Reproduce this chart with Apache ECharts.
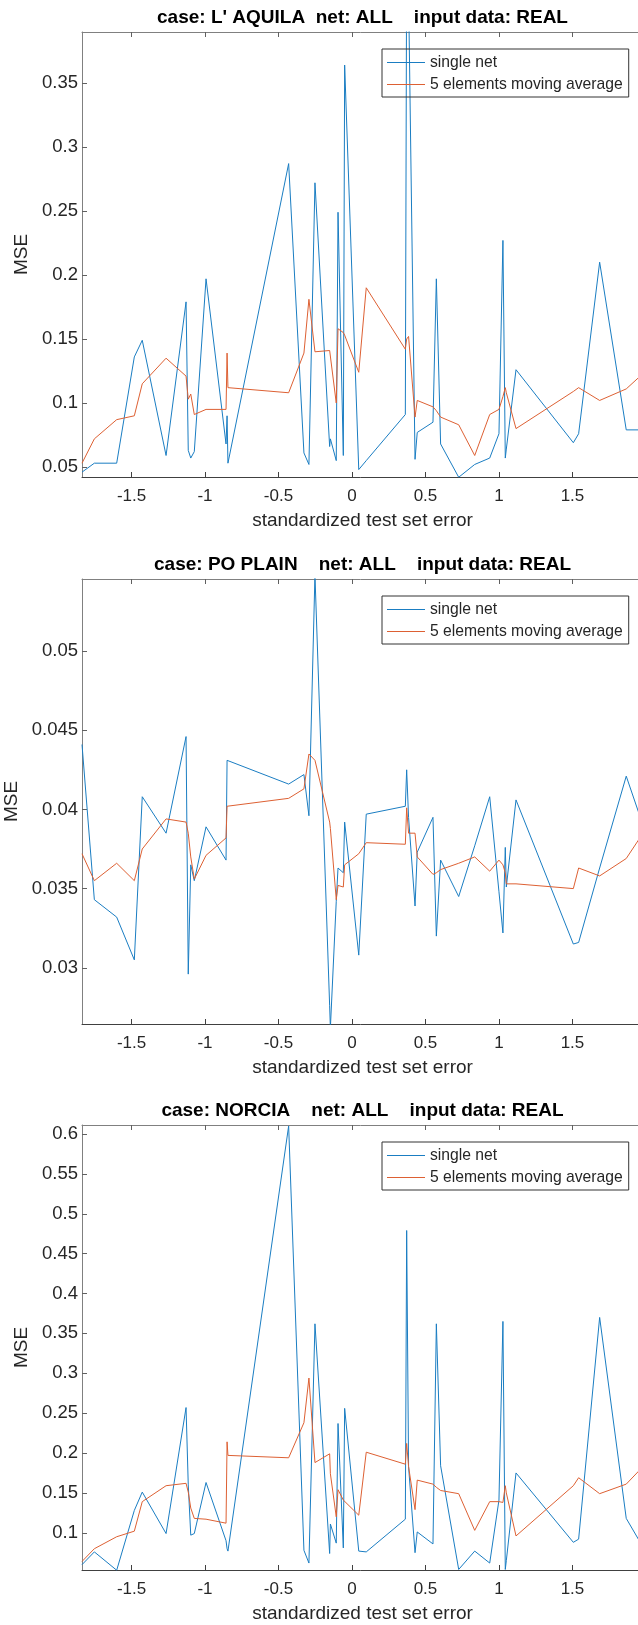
<!DOCTYPE html>
<html>
<head>
<meta charset="utf-8">
<script src="https://cdn.jsdelivr.net/npm/echarts@6/dist/echarts.min.js"></script>
<style>
  html, body { margin: 0; padding: 0; background: #fff; }
  #chart { width: 638px; height: 1625px; }
</style>
</head>
<body>
<div id="chart"></div>
<script>
// standardized test set error (shared by the three cases)
var xVals = [-1.837, -1.753, -1.601, -1.481, -1.427, -1.265, -1.129, -1.114, -1.097, -1.073,
  -0.993, -0.857, -0.850, -0.844, -0.431, -0.327, -0.293, -0.252, -0.152, -0.147,
  -0.107, -0.095, -0.059, -0.050, 0.046, 0.097, 0.363, 0.372, 0.385, 0.429,
  0.444, 0.551, 0.574, 0.603, 0.726, 0.835, 0.937, 1.000, 1.027, 1.043,
  1.050, 1.116, 1.506, 1.542, 1.685, 1.866, 1.980]

var aquilaSingle = [0.046, 0.053, 0.053, 0.136, 0.149, 0.059, 0.179, 0.063, 0.057, 0.062,
  0.197, 0.068, 0.090, 0.053, 0.287, 0.061, 0.052, 0.272, 0.066, 0.072,
  0.055, 0.249, 0.059, 0.364, 0.048, 0.055, 0.091, 0.45, 0.42, 0.056,
  0.077, 0.085, 0.197, 0.068, 0.042, 0.052, 0.057, 0.076, 0.227, 0.057,
  0.064, 0.126, 0.069, 0.076, 0.210, 0.079, 0.079]
var aquilaAvg = [0.053, 0.072, 0.087, 0.090, 0.115, 0.135, 0.121, 0.103, 0.107, 0.091,
  0.095, 0.095, 0.139, 0.112, 0.108, 0.139, 0.181, 0.140, 0.141, 0.142,
  0.100, 0.158, 0.155, 0.153, 0.124, 0.190, 0.142, 0.150, 0.152, 0.089,
  0.102, 0.097, 0.094, 0.089, 0.083, 0.059, 0.091, 0.095, 0.105, 0.112,
  0.108, 0.080, 0.109, 0.112, 0.102, 0.111, 0.123]

var poSingle = [0.0441, 0.0343, 0.0332, 0.0305, 0.0408, 0.0385, 0.0446, 0.0296, 0.0365, 0.0355,
  0.0389, 0.0368, 0.0431, 0.0430, 0.0416, 0.0422, 0.0396, 0.0548, 0.0276, 0.0262,
  0.0342, 0.0363, 0.0360, 0.0392, 0.0308, 0.0397, 0.0402, 0.0425, 0.0395, 0.0339,
  0.0373, 0.0395, 0.0320, 0.0368, 0.0345, 0.0377, 0.0408, 0.0348, 0.0322, 0.0376,
  0.0351, 0.0406, 0.0315, 0.0316, 0.0363, 0.0421, 0.0390]
var poAvg = [0.0372, 0.0355, 0.0366, 0.0355, 0.0375, 0.0394, 0.0392, 0.0385, 0.0370, 0.0356,
  0.0371, 0.0382, 0.0402, 0.0402, 0.0407, 0.0413, 0.0435, 0.0431, 0.0392, 0.0388,
  0.0343, 0.0352, 0.0351, 0.0365, 0.0372, 0.0379, 0.0378, 0.0401, 0.0385, 0.0385,
  0.0370, 0.0359, 0.0360, 0.0362, 0.0366, 0.0370, 0.0361, 0.0368, 0.0365, 0.0360,
  0.0353, 0.0353, 0.0350, 0.0363, 0.0358, 0.0369, 0.0385]

var norciaSingle = [0.060, 0.076, 0.053, 0.128, 0.151, 0.099, 0.257, 0.160, 0.097, 0.099,
  0.163, 0.090, 0.080, 0.077, 0.610, 0.078, 0.062, 0.362, 0.074, 0.111,
  0.087, 0.237, 0.081, 0.256, 0.077, 0.076, 0.117, 0.479, 0.183, 0.075,
  0.101, 0.086, 0.362, 0.184, 0.054, 0.077, 0.062, 0.141, 0.365, 0.054,
  0.065, 0.175, 0.088, 0.092, 0.370, 0.118, 0.082]
var norciaAvg = [0.064, 0.080, 0.095, 0.102, 0.139, 0.159, 0.162, 0.151, 0.131, 0.118,
  0.117, 0.112, 0.214, 0.197, 0.194, 0.238, 0.294, 0.188, 0.199, 0.174,
  0.120, 0.154, 0.141, 0.143, 0.122, 0.201, 0.186, 0.212, 0.183, 0.129,
  0.166, 0.161, 0.157, 0.153, 0.149, 0.103, 0.139, 0.139, 0.138, 0.159,
  0.150, 0.096, 0.159, 0.169, 0.149, 0.161, 0.183]

var xTicks = [-1.5, -1, -0.5, 0, 0.5, 1, 1.5]
var aquilaTicks = [0.05, 0.1, 0.15, 0.2, 0.25, 0.3, 0.35]
var poTicks = [0.03, 0.035, 0.04, 0.045, 0.05]
var norciaTicks = [0.1, 0.15, 0.2, 0.25, 0.3, 0.35, 0.4, 0.45, 0.5, 0.55, 0.6]

var seriesNames = ['single net', '5 elements moving average']

var panels = [
  { title: "case: L' AQUILA  net: ALL    input data: REAL", top: 32, ymin: 0.0422, ymax: 0.3898,
    ticks: aquilaTicks, single: aquilaSingle, avg: aquilaAvg },
  { title: 'case: PO PLAIN    net: ALL    input data: REAL', top: 579, ymin: 0.02645, ymax: 0.05455,
    ticks: poTicks, single: poSingle, avg: poAvg },
  { title: 'case: NORCIA    net: ALL    input data: REAL', top: 1125, ymin: 0.0533, ymax: 0.6113,
    ticks: norciaTicks, single: norciaSingle, avg: norciaAvg }
]

var FONT = '"Liberation Sans", Arial, Helvetica, sans-serif'
var xMin = -1.837
var xMax = 1.98
var plotH = 445

function fmt(v) {
  return String(parseFloat(Number(v).toFixed(4)))
}

function pairs(ys) {
  return xVals.map(function (x, i) { return [x, ys[i]] })
}

var option = {
  backgroundColor: '#fff',
  animation: false,
  grid: [],
  xAxis: [],
  yAxis: [],
  legend: [],
  series: [],
  graphic: []
}

panels.forEach(function (p, i) {
  option.grid.push({ left: 82, right: -5, top: p.top, height: plotH, outerBoundsMode: 'none' })

  // bottom and top x axes (box)
  option.xAxis.push({
    gridIndex: i, type: 'value', position: 'bottom', min: xMin, max: xMax,
    axisLine: { show: true, onZero: false, lineStyle: { color: '#404040', width: 1 } },
    axisTick: { show: true, inside: true, length: 5, customValues: xTicks, lineStyle: { color: '#404040' } },
    axisLabel: { show: true, customValues: xTicks, margin: 11, color: '#262626', fontSize: 17, fontFamily: FONT, formatter: fmt },
    splitLine: { show: false },
    name: 'standardized test set error', nameLocation: 'middle', nameGap: 34,
    nameTextStyle: { fontSize: 19, color: '#262626', fontFamily: FONT }
  })
  option.xAxis.push({
    gridIndex: i, type: 'value', position: 'top', min: xMin, max: xMax,
    axisLine: { show: true, onZero: false, lineStyle: { color: '#808080', width: 1 } },
    axisTick: { show: true, inside: true, length: 5, customValues: xTicks, lineStyle: { color: '#606060' } },
    axisLabel: { show: false },
    splitLine: { show: false }
  })

  // left and right y axes
  option.yAxis.push({
    gridIndex: i, type: 'value', position: 'left', min: p.ymin, max: p.ymax,
    axisLine: { show: true, onZero: false, lineStyle: { color: '#808080', width: 1 } },
    axisTick: { show: true, inside: true, length: 5, customValues: p.ticks, lineStyle: { color: '#606060' } },
    axisLabel: { show: true, customValues: p.ticks, margin: 4, color: '#262626', fontSize: 18.5, fontFamily: FONT, formatter: fmt },
    splitLine: { show: false },
    name: 'MSE', nameLocation: 'middle', nameGap: 43,
    nameTextStyle: { fontSize: 19, color: '#262626', fontFamily: FONT }
  })
  option.yAxis.push({
    gridIndex: i, type: 'value', position: 'right', min: p.ymin, max: p.ymax,
    axisLine: { show: true, onZero: false, lineStyle: { color: '#606060', width: 1 } },
    axisTick: { show: true, inside: true, length: 5, customValues: p.ticks, lineStyle: { color: '#606060' } },
    axisLabel: { show: false },
    splitLine: { show: false }
  })

  option.series.push({
    name: seriesNames[0], type: 'line', xAxisIndex: 2 * i, yAxisIndex: 2 * i,
    data: pairs(p.single), symbol: 'none', showSymbol: false, clip: true,
    lineStyle: { color: '#1a7dc2', width: 1 }, itemStyle: { color: '#1a7dc2' }
  })
  option.series.push({
    name: seriesNames[1], type: 'line', xAxisIndex: 2 * i, yAxisIndex: 2 * i,
    data: pairs(p.avg), symbol: 'none', showSymbol: false, clip: true,
    lineStyle: { color: '#dd6033', width: 1 }, itemStyle: { color: '#dd6033' }
  })

  option.legend.push({
    data: seriesNames, orient: 'vertical', left: 382, top: p.top + 17,
    icon: 'rect', itemWidth: 38, itemHeight: 1.2, itemGap: 3,
    padding: [4, 6, 3, 5], borderColor: '#333', borderWidth: 1,
    selectedMode: false,
    textStyle: { fontSize: 15.7, lineHeight: 19, color: '#262626', fontFamily: FONT }
  })

  option.graphic.push({
    type: 'text', x: 362.5, y: p.top - 14,
    style: { text: p.title, fill: '#000', font: 'bold 19px ' + FONT, align: 'center', verticalAlign: 'middle' }
  })
})

var chart = echarts.init(document.getElementById('chart'))
chart.setOption(option)
</script>
</body>
</html>
